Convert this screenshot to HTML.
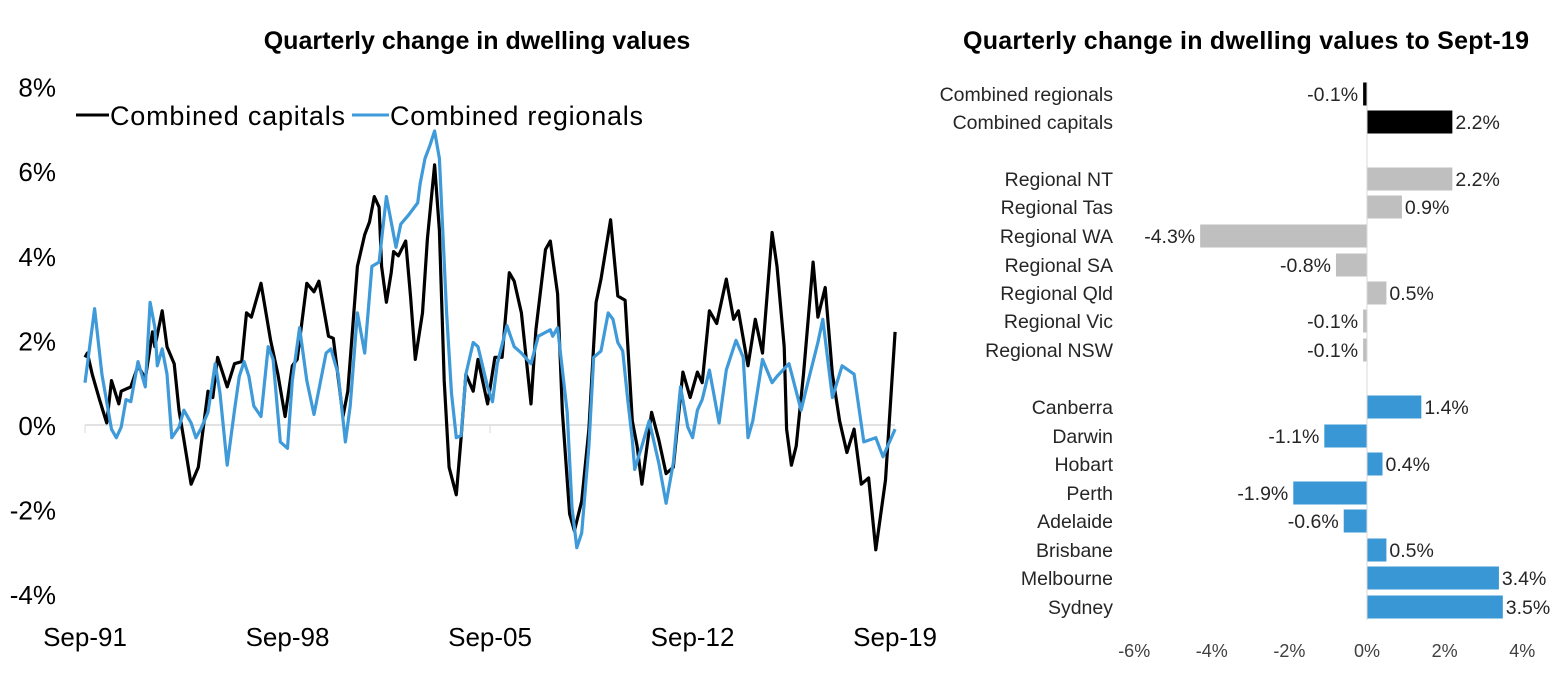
<!DOCTYPE html>
<html><head><meta charset="utf-8"><style>
body{margin:0;background:#fff;}
svg text{font-family:"Liberation Sans",sans-serif;}
</style></head><body>
<svg width="1554" height="690" xmlns="http://www.w3.org/2000/svg">
<g id="left"></g>
<g id="right"></g>
</svg>
<script>
// ---- Left chart data (months since Sep-91) ----
const capMonths=[0,1,3,6,9,11,14,15,19,22,25,28,29,32,34,37,39,41,44,47,49,51,53,55,59,62,65,67,69,73,77,80,83,86,88,92,95,97,101,103,107,109,113,116,118,120,122,123,125,127,128,130,133,135,137,140,142,145,147,149,151,154,156,158,161,163,167,170,173,176,178,181,185,187,191,193,196,198,201,203,206,209,212,214,218,221,224,227,229,231,235,238,241,244,248,251,254,256,259,262,266,269,271,275,278,281,285,287,290,291,293,295,298,302,304,307,310,313,316,319,322,325,328,332,336];
const capValues=[1.6,1.7,1.2,0.6,0.05,1.05,0.5,0.8,0.9,1.4,1.1,2.2,1.85,2.7,1.85,1.45,0.35,-0.35,-1.4,-1.0,-0.1,0.8,0.65,1.6,0.9,1.45,1.5,2.65,2.55,3.35,2.0,1.2,0.2,1.4,1.55,3.35,3.15,3.4,2.1,2.05,0.2,0.8,3.75,4.5,4.8,5.4,5.15,3.75,2.9,3.6,4.1,4.0,4.35,3.05,1.55,2.65,4.4,6.15,4.6,1.05,-1.0,-1.65,-0.3,1.2,0.8,1.55,0.5,1.6,1.6,3.6,3.4,2.65,0.5,2.25,4.15,4.35,3.1,0.3,-2.1,-2.5,-1.8,-0.1,2.9,3.45,4.85,3.05,2.95,0.1,-0.5,-1.4,0.3,-0.35,-1.15,-1.0,1.25,0.65,1.25,1.0,2.7,2.4,3.45,2.5,2.7,1.4,2.5,1.7,4.55,3.75,1.85,-0.1,-0.95,-0.5,1.2,3.85,2.55,3.25,1.2,0.1,-0.65,-0.1,-1.4,-1.25,-2.95,-1.3,2.2];
const regMonths=[0,4,7,11,13,15,17,19,22,25,27,29,30,32,34,36,39,41,44,46,48,51,54,56,59,62,64,66,68,70,73,76,78,81,84,86,89,92,95,100,102,105,108,110,113,116,119,122,125,129,131,134,138,139,141,143,145,147,150,152,154,156,158,161,163,167,169,171,175,178,181,185,188,193,194,196,200,202,204,206,209,211,214,217,219,221,223,225,227,228,231,234,238,241,244,247,250,252,254,256,259,263,266,270,273,275,277,281,285,287,292,297,300,304,306,310,314,319,323,328,331,336];
const regValues=[1.0,2.75,1.2,-0.1,-0.3,-0.05,0.6,0.55,1.5,0.9,2.9,2.3,1.4,1.8,1.2,-0.3,-0.05,0.35,0.05,-0.3,-0.1,0.3,1.45,0.75,-0.95,0.35,1.15,1.5,1.15,0.45,0.2,1.85,1.55,-0.4,-0.55,1.05,2.3,1.05,0.25,1.7,1.8,1.2,-0.4,0.45,2.65,1.7,3.75,3.85,5.4,4.2,4.75,4.95,5.25,5.7,6.3,6.6,6.95,6.3,2.65,0.75,-0.3,-0.25,1.2,1.95,1.85,0.9,0.55,1.45,2.35,1.85,1.7,1.45,2.1,2.25,2.1,2.3,0.3,-1.95,-2.9,-2.55,-0.5,1.6,1.75,2.65,2.5,1.95,1.75,0.65,-0.35,-1.05,-0.5,0.1,-0.9,-1.85,-0.9,0.9,-0.05,-0.3,0.35,0.6,1.3,0.05,1.3,2.0,1.6,-0.3,0.1,1.55,1.0,1.15,1.45,0.35,1.05,1.95,2.5,0.65,1.4,1.2,-0.4,-0.3,-0.75,-0.1];
const yTicks=[8,6,4,2,0,-2,-4];
const xTickLabels=["Sep-91","Sep-98","Sep-05","Sep-12","Sep-19"];
const xTickMonths=[0,84,168,252,336];
// ---- Right chart data ----
const barCats=["Combined regionals","Combined capitals","Regional NT","Regional Tas","Regional WA","Regional SA","Regional Qld","Regional Vic","Regional NSW","Canberra","Darwin","Hobart","Perth","Adelaide","Brisbane","Melbourne","Sydney"];
const barValues=[-0.1,2.2,2.2,0.9,-4.3,-0.8,0.5,-0.1,-0.1,1.4,-1.1,0.4,-1.9,-0.6,0.5,3.4,3.5];
const barGroups=["cap","cap","reg","reg","reg","reg","reg","reg","reg","city","city","city","city","city","city","city","city"];
const barTicks=[-6,-4,-2,0,2,4];

const NS="http://www.w3.org/2000/svg";
function mk(parent,tag,attrs,text){const e=document.createElementNS(NS,tag);for(const k in attrs)e.setAttribute(k,attrs[k]);if(text!==undefined)e.textContent=text;parent.appendChild(e);return e;}

// Left
const L=document.getElementById('left');
const xL=m=>85+m*2.411;
const yL=v=>425-v*42.3;
let t=mk(L,'text',{x:477,y:49,'text-anchor':'middle','font-size':25,'font-weight':'bold',fill:'#000'},'Quarterly change in dwelling values');

let g=mk(L,'line',{x1:85,x2:895,y1:yL(0),y2:yL(0),stroke:'#d9d9d9','stroke-width':1.5});

mk(L,'line',{x1:85,x2:85,y1:yL(0),y2:yL(0)+8,stroke:'#d9d9d9','stroke-width':1});
mk(L,'line',{x1:xL(168),x2:xL(168),y1:yL(0),y2:yL(0)+8,stroke:'#d9d9d9','stroke-width':1});
mk(L,'line',{x1:xL(252),x2:xL(252),y1:yL(0),y2:yL(0)+8,stroke:'#d9d9d9','stroke-width':1});
yTicks.forEach(v=>{const e=mk(L,'text',{x:56,y:yL(v)+10,'text-anchor':'end','font-size':26,fill:'#000'},v+'%');
});
xTickMonths.forEach((m,i)=>{const e=mk(L,'text',{x:xL(m)+0,y:646,'text-anchor':'middle','font-size':26,fill:'#000'},xTickLabels[i]);
});
function pts(ms,vs){return ms.map((m,i)=>xL(m).toFixed(1)+','+yL(vs[i]).toFixed(1)).join(' ');}
let p=mk(L,'polyline',{points:pts(capMonths,capValues),fill:'none',stroke:'#000','stroke-width':3.2,'stroke-linejoin':'round'});

p=mk(L,'polyline',{points:pts(regMonths,regValues),fill:'none',stroke:'#3e9ad8','stroke-width':3.2,'stroke-linejoin':'round'});

// legend
mk(L,'line',{x1:76,x2:109,y1:115,y2:115,stroke:'#000','stroke-width':3});
t=mk(L,'text',{x:110,y:125,'font-size':27,fill:'#000',textLength:235},'Combined capitals');

mk(L,'line',{x1:352,x2:389,y1:115,y2:115,stroke:'#3e9ad8','stroke-width':3});
t=mk(L,'text',{x:390,y:125,'font-size':27,fill:'#000',textLength:253},'Combined regionals');


// Right
const R=document.getElementById('right');
const xR=v=>1367+v*38.8;
const rowY=[94,122,179,207,236,265,293,321,350,407,436,464,493,521,550,578,607];
t=mk(R,'text',{x:1246,y:49,'text-anchor':'middle','font-size':25,'font-weight':'bold',fill:'#000',textLength:566},'Quarterly change in dwelling values to Sept-19');

const colors={cap:'#000000',reg:'#bfbfbf',city:'#3a97d6'};
barCats.forEach((c,i)=>{
  const y=rowY[i], v=barValues[i];
  const e=mk(R,'text',{x:1113,y:y+7,'text-anchor':'end','font-size':19.5,fill:'#262626'},c);
  
  const x0=Math.min(xR(0),xR(v)), w=Math.abs(xR(v)-xR(0));
  const b=mk(R,'rect',{x:x0,y:y-11.5,width:w,height:23,fill:colors[barGroups[i]]});
  
  const lab=mk(R,'text',{x:v>=0?xR(v)+3:xR(v)-5,y:y+7,'text-anchor':v>=0?'start':'end','font-size':19.5,fill:'#262626'},v.toFixed(1)+'%');
  
});
mk(R,'line',{x1:xR(0),x2:xR(0),y1:82,y2:620,stroke:'#d9d9d9','stroke-width':1});
barTicks.forEach(v=>{const e=mk(R,'text',{x:xR(v),y:657,'text-anchor':'middle','font-size':18,fill:'#404040'},v+'%');
});
</script>
</body></html>
